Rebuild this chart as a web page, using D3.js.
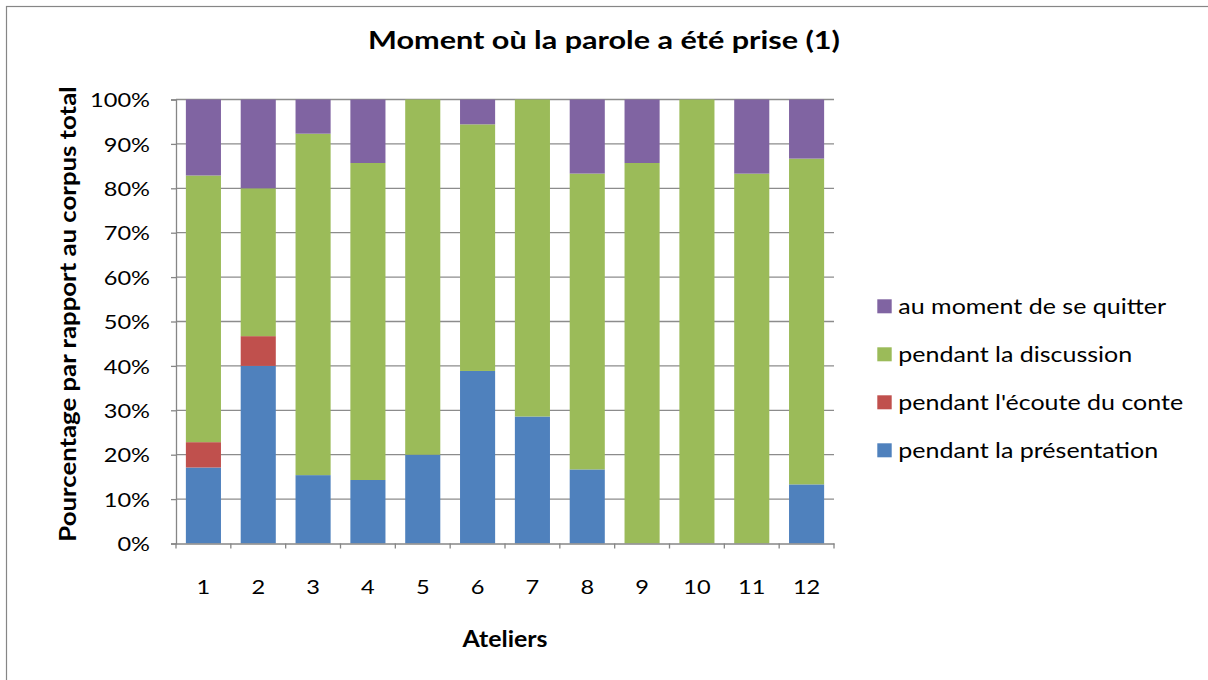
<!DOCTYPE html>
<html>
<head>
<meta charset="utf-8">
<script src="https://cdn.jsdelivr.net/npm/d3@7"></script>
<style>
  html, body { margin: 0; padding: 0; background: #fff; }
  svg { display: block; }
  text { font-family: Lato, "Open Sans", sans-serif; fill: #000; }
</style>
</head>
<body>
<svg id="chart" width="1208" height="680"></svg>
<script>
// Ateliers (workshops) and share of speaking turns per moment, in %
const categories = ["1", "2", "3", "4", "5", "6", "7", "8", "9", "10", "11", "12"];
const presentation = [17.1, 40.0, 15.4, 14.3, 20.0, 38.9, 28.6, 16.7, 0, 0, 0, 13.3];
const ecoute       = [5.7, 6.7, 0, 0, 0, 0, 0, 0, 0, 0, 0, 0];
const discussion   = [60.0, 33.3, 76.9, 71.4, 80.0, 55.6, 71.4, 66.7, 85.7, 100, 83.3, 73.3];
const quitter      = [17.1, 20.0, 7.7, 14.3, 0, 5.6, 0, 16.7, 14.3, 0, 16.7, 13.3];

const seriesNames = ["pendant la présentation", "pendant l'écoute du conte", "pendant la discussion", "au moment de se quitter"];
const seriesColors = ["#4F81BD", "#C0504D", "#9BBB59", "#8064A2"];
const yTicks = [0, 0.1, 0.2, 0.3, 0.4, 0.5, 0.6, 0.7, 0.8, 0.9, 1];

const title = "Moment où la parole a été prise (1)";
const xTitle = "Ateliers";
const yTitle = "Pourcentage par rapport au corpus total";

const svg = d3.select("#chart");

// horizontally widened text, anchored at (x, y)
function wideText(parent, x, y, sx, txt) {
  return parent.append("text")
    .attr("transform", `translate(${x},${y}) scale(${sx},1)`)
    .text(txt);
}

// outer chart frame
svg.append("rect")
  .attr("x", 6.5).attr("y", 6.5)
  .attr("width", 1300).attr("height", 800)
  .attr("fill", "none").attr("stroke", "#868686").attr("stroke-width", 1.2);

const plot = { left: 176, right: 834, top: 99.5, bottom: 543.5 };

const rows = categories.map((c, i) => ({
  cat: c,
  s0: presentation[i], s1: ecoute[i], s2: discussion[i], s3: quitter[i]
}));
const keys = ["s0", "s1", "s2", "s3"];
const stacked = d3.stack().keys(keys).offset(d3.stackOffsetExpand)(rows);

const x = d3.scaleBand().domain(categories)
  .range([plot.left, plot.right]).paddingInner(0.36).paddingOuter(0.18);
const y = d3.scaleLinear().domain([0, 1]).range([plot.bottom, plot.top]);

// horizontal gridlines
svg.append("g")
  .selectAll("line")
  .data(yTicks.slice(1))
  .join("line")
  .attr("x1", plot.left).attr("x2", plot.right)
  .attr("y1", d => y(d)).attr("y2", d => y(d))
  .attr("stroke", "#8c8c8c").attr("stroke-width", 1.3);

// stacked bars
svg.append("g")
  .selectAll("g")
  .data(stacked)
  .join("g")
  .attr("fill", (d, i) => seriesColors[i])
  .selectAll("rect")
  .data(d => d)
  .join("rect")
  .attr("x", d => x(d.data.cat))
  .attr("width", x.bandwidth())
  .attr("y", d => y(d[1]))
  .attr("height", d => Math.max(0, y(d[0]) - y(d[1])));

const tickStretch = 1.18;

// y axis
const yAxis = d3.axisLeft(y).tickValues(yTicks)
  .tickFormat(d3.format(".0%")).tickSize(5).tickPadding(21);
const gy = svg.append("g").attr("transform", `translate(${plot.left},0)`).call(yAxis);
gy.select(".domain").attr("stroke", "#868686").attr("stroke-width", 1.3);
gy.selectAll(".tick line").attr("stroke", "#868686").attr("stroke-width", 1.3);
gy.selectAll(".tick text")
  .attr("font-family", "Lato, sans-serif").attr("font-size", 20).attr("fill", "#000")
  .attr("x", -26 / tickStretch)
  .attr("dy", "0.36em")
  .attr("transform", `scale(${tickStretch},1)`);

// x axis
const xAxis = d3.axisBottom(x).tickSize(0).tickPadding(0);
const gx = svg.append("g").attr("transform", `translate(0,${plot.bottom})`).call(xAxis);
gx.select(".domain").attr("stroke", "#868686").attr("stroke-width", 1.3);
gx.selectAll(".tick text")
  .attr("font-family", "Lato, sans-serif").attr("font-size", 20).attr("fill", "#000")
  .attr("y", 50.5).attr("dy", 0)
  .attr("transform", `scale(${tickStretch},1)`);
// category boundary tick marks
gx.append("g").selectAll("line")
  .data(d3.range(categories.length + 1))
  .join("line")
  .attr("x1", i => plot.left + i * x.step())
  .attr("x2", i => plot.left + i * x.step())
  .attr("y1", 0).attr("y2", 5)
  .attr("stroke", "#868686").attr("stroke-width", 1.3);

// titles
wideText(svg, 604, 49, 1.2, title)
  .attr("text-anchor", "middle")
  .attr("font-size", 25.5).attr("font-weight", "bold");

wideText(svg, 505, 646.5, 1.085, xTitle)
  .attr("text-anchor", "middle")
  .attr("font-size", 23).attr("font-weight", "bold");

svg.append("text")
  .attr("transform", `translate(76,314) rotate(-90) scale(1.12,1)`)
  .attr("text-anchor", "middle")
  .attr("font-size", 23).attr("font-weight", "bold")
  .text(yTitle);

// legend (top series first)
const legendOrder = [3, 2, 1, 0];
const lg = svg.append("g");
legendOrder.forEach((s, j) => {
  const top = 299.3 + j * 48;
  lg.append("rect")
    .attr("x", 877.3).attr("y", top)
    .attr("width", 14.4).attr("height", 14)
    .attr("fill", seriesColors[s]);
  wideText(lg, 898.3, top + 15, 1.22, seriesNames[s])
    .attr("font-size", 20.5);
});
</script>
</body>
</html>
